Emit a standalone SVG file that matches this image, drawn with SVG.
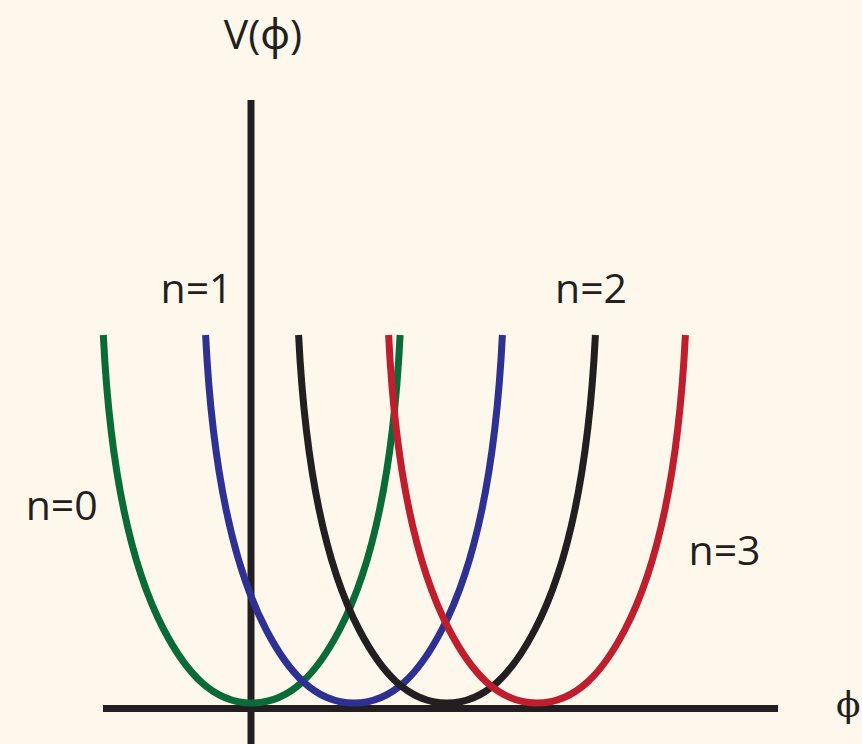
<svg xmlns="http://www.w3.org/2000/svg" xmlns:xlink="http://www.w3.org/1999/xlink" width="862" height="744" viewBox="0 0 862 744">
<style>
.lbl{font-family:"Open Sans","Noto Sans","DejaVu Sans",sans-serif;font-size:41px;fill:#231f20;text-anchor:middle}
.axis{stroke:#231f20;stroke-width:7;fill:none}
.curve{fill:none;stroke-width:7}
</style>
<defs>
<path id="well" d="M-148.4,-368 C-139.9,-198 -111,-117.3 -87.7,-73 C-66.7,-32.8 -40,0 0,0 C40,0 66.7,-32.8 87.7,-73 C111,-117.3 139.9,-198 148.4,-368"/>
</defs>
<rect width="862" height="744" fill="#fef8ec"/>
<g id="axes">
<line class="axis" x1="251" y1="100" x2="251" y2="744"/>
<line class="axis" x1="103" y1="708.5" x2="778" y2="708.5"/>
</g>
<g id="curves">
<use xlink:href="#well" href="#well" class="curve" stroke="#0b6b38" transform="translate(251.7,703)"/>
<use xlink:href="#well" href="#well" class="curve" stroke="#2e3192" transform="translate(354,703)"/>
<use xlink:href="#well" href="#well" class="curve" stroke="#231f20" transform="translate(447,703)"/>
<use xlink:href="#well" href="#well" class="curve" stroke="#be1e2d" transform="translate(537,703)"/>
</g>
<g id="labels">
<text class="lbl" x="263" y="49" font-size="43">V(ϕ)</text>
<text class="lbl" x="196.5" y="303">n=1</text>
<text class="lbl" x="591" y="303">n=2</text>
<text class="lbl" x="61.7" y="520" font-size="43">n=0</text>
<text class="lbl" x="724.5" y="565">n=3</text>
<text x="836" y="717" style="font-family:'DejaVu Serif','Liberation Serif',serif;font-size:36px;fill:#231f20">ϕ</text>
</g>
</svg>
